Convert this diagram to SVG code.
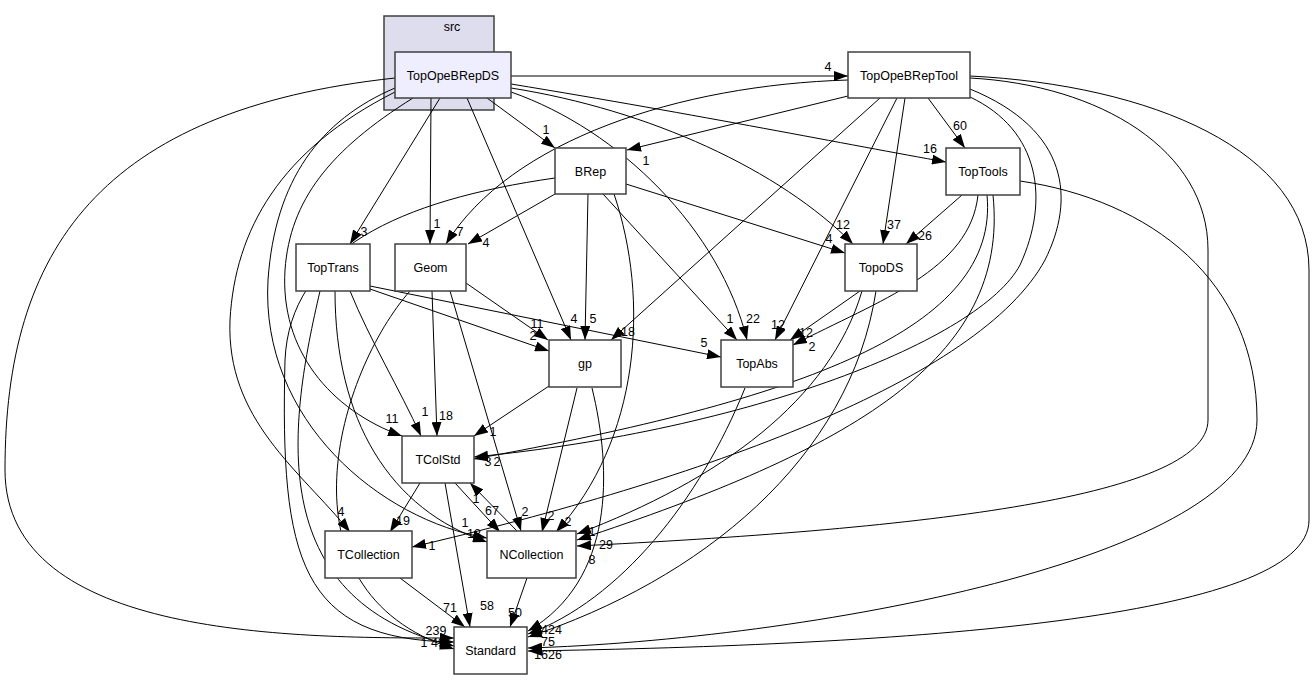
<svg xmlns="http://www.w3.org/2000/svg" width="1315" height="681" viewBox="0 0 1315 681">
<style>
.n rect{fill:#ffffff;stroke:#404040;stroke-width:1.5}
.n text,.lb text{font-family:"Liberation Sans",Arial,sans-serif;font-size:12.5px;fill:#000;text-anchor:middle}
.e path{fill:none;stroke:#000;stroke-width:1;marker-end:url(#ah)}
</style>
<defs>
<marker id="ah" markerUnits="userSpaceOnUse" markerWidth="14" markerHeight="10" viewBox="0 0 14 10" refX="14" refY="5" orient="auto">
<path d="M0,0 L14,5 L0,10 z" fill="#000"/>
</marker>
</defs>
<rect width="1315" height="681" fill="#ffffff"/>
<g id="cluster_src">
<rect x="384" y="16" width="110" height="94" fill="#ddddee" stroke="#404040" stroke-width="1.5"/>
<text x="452" y="31" font-family="Liberation Sans,Arial,sans-serif" font-size="12.5" text-anchor="middle">src</text>
</g>
<g id="edges" class="e">
<path d="M511,76 L848,76"/>
<path d="M487,98 L555,148"/>
<path d="M440,98 L350,244"/>
<path d="M431,98 L430,244"/>
<path d="M467,98 L571,340"/>
<path d="M511,92 C620,130 720,230 747,340"/>
<path d="M511,88 C650,110 780,170 853,244"/>
<path d="M511,84 C700,115 850,145 946,162"/>
<path d="M413,98 C330,150 290,200 285,270 C280,350 330,410 402,436"/>
<path d="M395,88 C320,120 275,180 268,280 C260,420 380,520 487,538"/>
<path d="M395,92 C280,150 235,230 230,320 C226,420 300,470 350,532"/>
<path d="M395,78 C100,110 5,250 5,470 C5,640 300,638 454,638"/>
<path d="M848,80 C680,85 510,140 446,244"/>
<path d="M848,96 L627,150"/>
<path d="M880,98 L611,340"/>
<path d="M897,98 L775,340"/>
<path d="M905,98 L883,244"/>
<path d="M928,98 L965,148"/>
<path d="M970,97 C1040,130 1050,200 1020,265 C980,340 750,430 474,457"/>
<path d="M970,89 C1070,130 1075,200 1045,260 C980,380 700,480 412,547"/>
<path d="M970,78 C1100,85 1208,150 1208,250 L1208,420 C1208,500 900,530 577,546"/>
<path d="M970,76 C1150,85 1309,150 1309,270 L1309,520 C1309,620 900,645 528,651"/>
<path d="M555,194 L468,244"/>
<path d="M588,194 L585,340"/>
<path d="M603,194 L737,340"/>
<path d="M626,184 L845,253"/>
<path d="M614,194 C650,300 640,440 556,532"/>
<path d="M555,178 C400,200 290,250 285,360 C280,560 300,640 454,642"/>
<path d="M370,289 L549,351"/>
<path d="M370,286 L721,357"/>
<path d="M350,291 C370,340 400,390 421,436"/>
<path d="M335,291 C335,420 390,510 487,542"/>
<path d="M320,291 C290,420 260,600 454,646"/>
<path d="M466,283 L548,340"/>
<path d="M432,291 L437,436"/>
<path d="M450,291 L521,531"/>
<path d="M410,291 C340,370 270,590 454,649"/>
<path d="M549,386 L474,436"/>
<path d="M577,388 L542,532"/>
<path d="M592,388 C612,470 615,580 528,631"/>
<path d="M745,388 C700,500 620,600 528,634"/>
<path d="M860,291 L790,340"/>
<path d="M862,291 C830,400 720,480 577,534"/>
<path d="M876,291 C850,460 700,580 528,637"/>
<path d="M962,195 L906,244"/>
<path d="M978,195 C970,270 880,300 793,345"/>
<path d="M987,195 C1000,330 800,400 474,459"/>
<path d="M993,195 C1010,360 850,450 577,540"/>
<path d="M1020,181 C1150,200 1257,280 1257,420 C1257,560 800,640 528,648"/>
<path d="M420,483 L390,532"/>
<path d="M455,483 L500,532"/>
<path d="M445,483 L470,627"/>
<path d="M517,531 L470,483"/>
<path d="M527,578 L510,627"/>
<path d="M400,578 L465,627"/>
</g>
<g id="labels" class="lb">
<text x="828" y="71">4</text>
<text x="546" y="134">1</text>
<text x="364" y="236">3</text>
<text x="437" y="228">1</text>
<text x="574" y="323">4</text>
<text x="753" y="323">22</text>
<text x="843" y="229">12</text>
<text x="930" y="153">16</text>
<text x="392" y="423">11</text>
<text x="341" y="516">4</text>
<text x="460" y="236">7</text>
<text x="646" y="165">1</text>
<text x="628" y="336">18</text>
<text x="778" y="329">12</text>
<text x="894" y="229">37</text>
<text x="960" y="130">60</text>
<text x="486" y="247">4</text>
<text x="593" y="323">5</text>
<text x="730" y="323">1</text>
<text x="829" y="243">4</text>
<text x="568" y="526">2</text>
<text x="533" y="340">2</text>
<text x="704" y="347">5</text>
<text x="425" y="416">1</text>
<text x="537" y="328">11</text>
<text x="446" y="420">18</text>
<text x="525" y="516">2</text>
<text x="493" y="436">1</text>
<text x="551" y="520">2</text>
<text x="806" y="337">12</text>
<text x="925" y="240">26</text>
<text x="812" y="351">2</text>
<text x="488" y="466">3</text>
<text x="497" y="466">2</text>
<text x="432" y="550">1</text>
<text x="592" y="536">1</text>
<text x="606" y="549">29</text>
<text x="592" y="564">8</text>
<text x="465" y="527">1</text>
<text x="474" y="538">18</text>
<text x="403" y="525">19</text>
<text x="492" y="515">67</text>
<text x="476" y="503">1</text>
<text x="487" y="610">58</text>
<text x="515" y="617">50</text>
<text x="450" y="612">71</text>
<text x="436" y="635">239</text>
<text x="438" y="647">49</text>
<text x="424" y="647">1</text>
<text x="541" y="634">14</text>
<text x="555" y="634">24</text>
<text x="548" y="646">75</text>
<text x="541" y="659">16</text>
<text x="555" y="659">26</text>
</g>
<g id="TopOpeBRepDS" class="n"><rect x="395" y="52" width="116" height="46" style="fill:#eeeeff"/><text x="453" y="79.5">TopOpeBRepDS</text></g>
<g id="TopOpeBRepTool" class="n"><rect x="848" y="52" width="122" height="46"/><text x="909" y="79.5">TopOpeBRepTool</text></g>
<g id="BRep" class="n"><rect x="555" y="148" width="71" height="46"/><text x="590.5" y="175.5">BRep</text></g>
<g id="TopTools" class="n"><rect x="946" y="148" width="74" height="47"/><text x="983" y="176">TopTools</text></g>
<g id="TopTrans" class="n"><rect x="296" y="244" width="74" height="47"/><text x="333" y="272">TopTrans</text></g>
<g id="Geom" class="n"><rect x="395" y="244" width="71" height="47"/><text x="430.5" y="272">Geom</text></g>
<g id="TopoDS" class="n"><rect x="845" y="244" width="72" height="47"/><text x="881" y="272">TopoDS</text></g>
<g id="gp" class="n"><rect x="549" y="340" width="72" height="47"/><text x="585" y="368">gp</text></g>
<g id="TopAbs" class="n"><rect x="721" y="340" width="72" height="47"/><text x="757" y="368">TopAbs</text></g>
<g id="TColStd" class="n"><rect x="402" y="436" width="72" height="47"/><text x="438" y="464">TColStd</text></g>
<g id="TCollection" class="n"><rect x="325" y="531" width="87" height="47"/><text x="368.5" y="559">TCollection</text></g>
<g id="NCollection" class="n"><rect x="487" y="531" width="89" height="47"/><text x="531.5" y="559">NCollection</text></g>
<g id="Standard" class="n"><rect x="454" y="627" width="73" height="47"/><text x="490.5" y="655">Standard</text></g>
</svg>
